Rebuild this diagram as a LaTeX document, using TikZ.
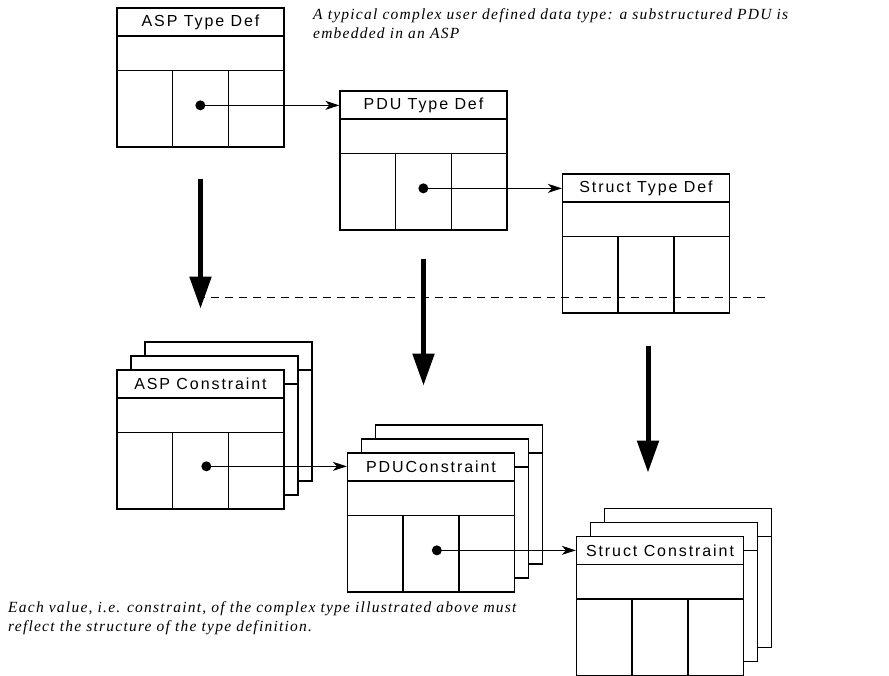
\documentclass[tikz,border=0pt]{standalone}
\usepackage{fontspec}
\usetikzlibrary{arrows.meta}
\newfontfamily\boxfont[LetterSpace=12]{Liberation Sans}
\newfontfamily\notefont[LetterSpace=8]{Liberation Serif}

\begin{document}
\begin{tikzpicture}[x=1pt,y=-1pt]
  \tikzset{rec/.style={draw,fill=white,rectangle,inner sep=0pt,minimum width=167pt,minimum height=139pt,line width=1.3pt}}
  \tikzset{hdr/.style={draw,rectangle,inner sep=0pt,minimum width=167pt,minimum height=28pt,anchor=north,line width=1.3pt,font=\boxfont\fontsize{16}{16}\selectfont}}
  \tikzset{dot/.style={circle,fill,inner sep=0pt,minimum size=10pt}}
  \tikzset{link/.style={draw,line width=1.1pt,-{Stealth[length=14pt,width=9pt,inset=4pt]}}}
  \tikzset{down/.style={draw,line width=5pt,-{Triangle[length=32pt,width=21pt]}}}
  \tikzset{sep/.style={draw,line width=1pt,dash pattern=on 8pt off 6pt}}
  \tikzset{note/.style={inner sep=0pt,anchor=west,align=left,font=\notefont\itshape\fontsize{15.5}{19}\selectfont}}

  \useasboundingbox (0,0) rectangle (889,676);

  % type definitions
  \node[rec] (asp) at (200.5,77.5) {};
  \node[hdr] (asphdr) at (asp.north) {ASP Type Def};
  \node[rec] (pdu) at (423.5,160.5) {};
  \node[hdr] (pduhdr) at (pdu.north) {PDU Type Def};
  \node[rec] (str) at (646,243.5) {};
  \node[hdr] (strhdr) at (str.north) {Struct Type Def};

  % constraints, each with two copies behind
  \node[rec] (aspc3) at (228.5,411.5) {};
  \node[hdr] at (aspc3.north) {};
  \node[rec] (aspc2) at (214.5,425.5) {};
  \node[hdr] at (aspc2.north) {};
  \node[rec] (aspc) at (200.5,439.5) {};
  \node[hdr] (aspchdr) at (aspc.north) {ASP Constraint};

  \node[rec] (pduc3) at (459,494.5) {};
  \node[hdr] at (pduc3.north) {};
  \node[rec] (pduc2) at (445,508.5) {};
  \node[hdr] at (pduc2.north) {};
  \node[rec] (pduc) at (431,522.5) {};
  \node[hdr] (pduchdr) at (pduc.north) {PDUConstraint};

  \node[rec] (strc3) at (688,578) {};
  \node[hdr] at (strc3.north) {};
  \node[rec] (strc2) at (674,592) {};
  \node[hdr] at (strc2.north) {};
  \node[rec] (strc) at (660,606) {};
  \node[hdr] (strchdr) at (strc.north) {Struct Constraint};

  \foreach \b in {asp,pdu,str,aspc,pduc,strc} {
    \draw[line width=1.3pt] ([yshift=-63pt]\b.north west) -- ([yshift=-63pt]\b.north east);
    \draw[line width=1.3pt] ([xshift=56pt,yshift=-63pt]\b.north west) -- ([xshift=56pt]\b.south west);
    \draw[line width=1.3pt] ([xshift=112pt,yshift=-63pt]\b.north west) -- ([xshift=112pt]\b.south west);
  }

  % references
  \node[dot] (aspdot) at ([xshift=84pt,yshift=-98pt]asp.north west) {};
  \node[dot] (pdudot) at ([xshift=84pt,yshift=-98pt]pdu.north west) {};
  \node[dot] (aspcdot) at ([xshift=90pt,yshift=-97pt]aspc.north west) {};
  \node[dot] (pducdot) at ([xshift=90pt,yshift=-98pt]pduc.north west) {};

  \draw[link] (aspdot.center) -- (aspdot.center -| pduhdr.west);
  \draw[link] (pdudot.center) -- (pdudot.center -| strhdr.west);
  \draw[link] (aspcdot.center) -- (aspcdot.center -| pduchdr.west);
  \draw[link] (pducdot.center) -- (pducdot.center -| strchdr.west);

  \draw[down] ([yshift=-31pt]asp.south) -- ++(0,130);
  \draw[down] ([yshift=-28pt]pdu.south) -- ++(0,127);
  \draw[down] ([xshift=2pt,yshift=-32pt]str.south) -- ++(0,127);

  \draw[sep] (197,298) -- (770,298);

  \node[note] (topnote) at (313,23.5) {A typical complex user defined data type: a substructured PDU is\\embedded in an ASP};
  \node[note] (botnote) at (8,618) {Each value, i.e. constraint, of the complex type illustrated above must\\reflect the structure of the type definition.};

\end{tikzpicture}
\end{document}
